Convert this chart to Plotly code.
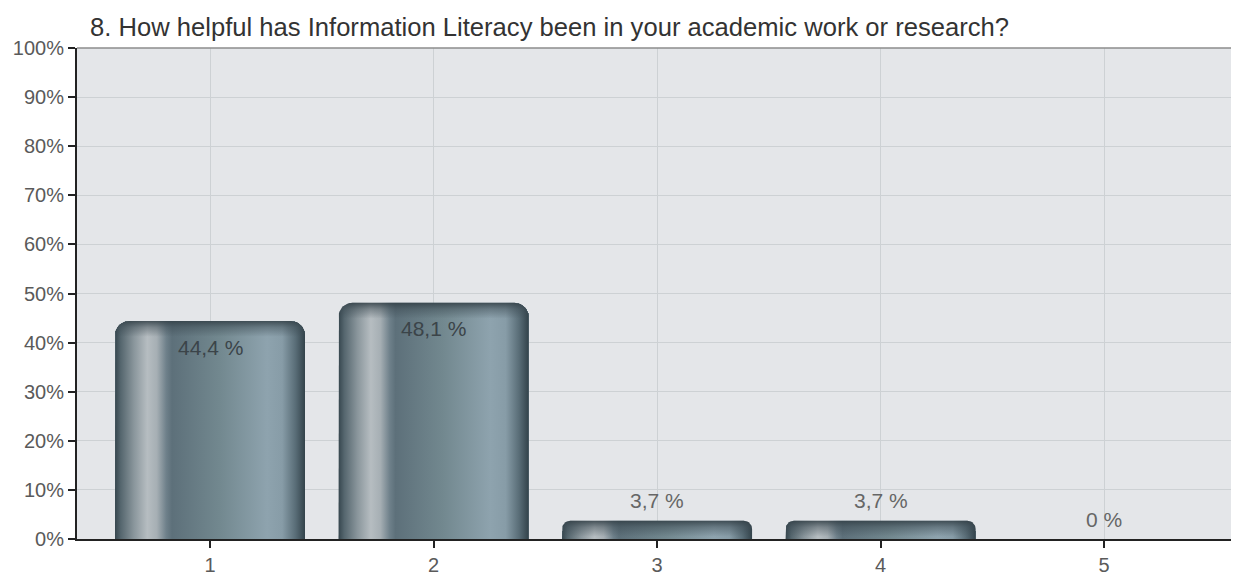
"""Survey question 8 - bar chart of answers (1-5) in percent."""

import numpy as np
import plotly.graph_objects as go

TITLE = "8. How helpful has Information Literacy been in your academic work or research?"
categories = ["1", "2", "3", "4", "5"]
percentages = [44.4, 48.1, 3.7, 3.7, 0.0]
y_tick_values = [0, 10, 20, 30, 40, 50, 60, 70, 80, 90, 100]
y_tick_labels = ["0%", "10%", "20%", "30%", "40%", "50%", "60%", "70%", "80%", "90%", "100%"]

# the page body has an 8px margin, so the figure is 8px smaller than the window
PAGE_PAD = 8
WIDTH, HEIGHT = 1239 - PAGE_PAD, 579 - PAGE_PAD
MARGIN = dict(l=77 - PAGE_PAD, r=3, t=48 - PAGE_PAD, b=36)
X_RANGE = [0.405, 5.59]
Y_RANGE = [0, 100]
BAR_WIDTH = 0.85
FONT = "Liberation Sans, Arial, Helvetica, sans-serif"

# pixel -> data conversion, used to keep corner radius round on screen
px_x = (WIDTH - MARGIN["l"] - MARGIN["r"]) / (X_RANGE[1] - X_RANGE[0])
px_y = (HEIGHT - MARGIN["t"] - MARGIN["b"]) / (Y_RANGE[1] - Y_RANGE[0])

# metallic look, left -> right across one bar
BODY_SCALE = [
    [0.00, "#36464e"],
    [0.03, "#55666e"],
    [0.10, "#8a969c"],
    [0.17, "#b6bdc1"],
    [0.22, "#a6afb4"],
    [0.27, "#6e808a"],
    [0.30, "#5d707a"],
    [0.55, "#72888f"],
    [0.80, "#8ea3ae"],
    [0.88, "#879ca7"],
    [0.95, "#596d77"],
    [1.00, "#33434b"],
]
CAP_SCALE = [
    [0.0, "rgba(58,72,80,0)"],
    [0.6, "rgba(58,72,80,0.45)"],
    [1.0, "rgba(50,63,70,0.85)"],
]


def pct_label(v):
    s = f"{v:.1f}".rstrip("0").rstrip(".")
    return s.replace(".", ",") + " %"


def rounded_top(xc, top, bottom, radius_px, n=14):
    """Outline of a bar with rounded top corners, in data units."""
    hw = BAR_WIDTH / 2
    rx = radius_px / px_x
    ry = radius_px / px_y
    xs, ys = [xc - hw], [bottom]
    for t in np.linspace(np.pi, np.pi / 2, n):
        xs.append(xc - hw + rx + rx * np.cos(t))
        ys.append(top - ry + ry * np.sin(t))
    for t in np.linspace(np.pi / 2, 0, n):
        xs.append(xc + hw - rx + rx * np.cos(t))
        ys.append(top - ry + ry * np.sin(t))
    xs += [xc + hw, xc - hw]
    ys += [bottom, bottom]
    return xs, ys


x_pos = np.arange(1, len(categories) + 1)

fig = go.Figure()

fig.add_trace(
    go.Bar(
        x=x_pos,
        y=percentages,
        width=BAR_WIDTH,
        marker=dict(color="#5d707a", line_width=0, cornerradius=14),
        customdata=[pct_label(v) for v in percentages],
        hovertemplate="%{customdata}<extra></extra>",
        showlegend=False,
    )
)

for xc, v in zip(x_pos, percentages):
    if v <= 0:
        continue
    h_px = v * px_y
    r = min(14, 0.45 * h_px)
    xs, ys = rounded_top(xc, v, 0, r)
    fig.add_trace(
        go.Scatter(
            x=xs, y=ys, mode="lines", fill="toself", line=dict(width=0),
            fillgradient=dict(type="horizontal", colorscale=BODY_SCALE),
            hoverinfo="skip", showlegend=False,
        )
    )
    cap_px = min(h_px, 16)
    xs, ys = rounded_top(xc, v, v - cap_px / px_y, r)
    fig.add_trace(
        go.Scatter(
            x=xs, y=ys, mode="lines", fill="toself", line=dict(width=0),
            fillgradient=dict(type="vertical", colorscale=CAP_SCALE),
            hoverinfo="skip", showlegend=False,
        )
    )

for xc, v in zip(x_pos, percentages):
    inside = v > 10
    fig.add_annotation(
        x=xc, y=v, text=pct_label(v), showarrow=False,
        yshift=-26 if inside else 20,
        font=dict(size=21, color="#3b4449" if inside else "#666666", family=FONT),
    )

# top and right frame in lighter grey
fig.add_shape(type="line", xref="x domain", yref="y domain", x0=0, x1=1, y0=1, y1=1,
              line=dict(color="#8c8c8c", width=1.5))
fig.add_shape(type="line", xref="x domain", yref="y domain", x0=1, x1=1, y0=0, y1=1,
              line=dict(color="#8c8c8c", width=1.5))

fig.update_layout(
    width=WIDTH,
    height=HEIGHT,
    margin=MARGIN,
    paper_bgcolor="white",
    plot_bgcolor="#e4e6e9",
    font=dict(family=FONT, color="#555555"),
    title=dict(
        text=TITLE, x=(90 - PAGE_PAD) / WIDTH, xanchor="left", xref="container",
        y=1 - (27 - PAGE_PAD) / HEIGHT, yanchor="middle",
        font=dict(size=25.6, color="#333333", family=FONT),
    ),
    showlegend=False,
    bargap=0,
)
fig.update_xaxes(
    range=X_RANGE, tickvals=x_pos, ticktext=categories,
    showgrid=True, gridcolor="#cdd1d4", gridwidth=1, zeroline=False,
    showline=True, linecolor="#222222", linewidth=2,
    ticks="outside", ticklen=7, tickwidth=2, tickcolor="#222222",
    tickfont=dict(size=20, color="#5a5a5a"),
)
fig.update_yaxes(
    range=Y_RANGE, tickvals=y_tick_values, ticktext=y_tick_labels,
    showgrid=True, gridcolor="#cdd1d4", gridwidth=1, zeroline=False,
    showline=True, linecolor="#222222", linewidth=2,
    ticks="outside", ticklen=7, tickwidth=2, tickcolor="#222222",
    tickfont=dict(size=20, color="#5a5a5a"),
)

fig.write_html("out.html")
